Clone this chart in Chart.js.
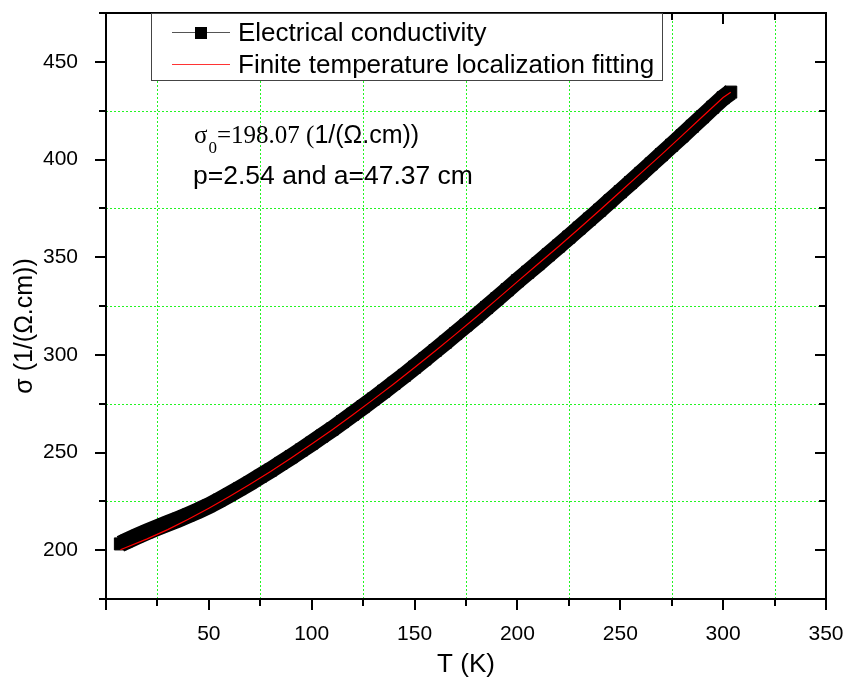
<!DOCTYPE html>
<html>
<head>
<meta charset="utf-8">
<script src="https://cdn.jsdelivr.net/npm/chart.js@4.4.1/dist/chart.umd.min.js"></script>
<style>
  body { margin: 0; background: #fff; }
  canvas { display: block; }
</style>
</head>
<body>
<canvas id="sigmaChart" width="848" height="687"></canvas>
<script>
const tempData = [7, 10, 15, 20, 25, 30, 35, 40, 45, 50, 55, 60, 65, 70, 75, 80, 85, 90, 95, 100,
  105, 110, 115, 120, 125, 130, 135, 140, 145, 150, 155, 160, 165, 170, 175, 180, 185, 190, 195, 200,
  205, 210, 215, 220, 225, 230, 235, 240, 245, 250, 255, 260, 265, 270, 275, 280, 285, 290, 295, 300, 303.7]
const sigmaData = [203.2, 204.7, 207.1, 209.4, 211.6, 213.7, 215.8, 218, 220.3, 222.8, 225.6, 228.5, 231.5, 234.6, 237.8, 241, 244.4, 247.8, 251.3, 254.8,
  258.4, 262, 265.8, 269.6, 273.5, 277.4, 281.4, 285.4, 289.5, 293.7, 297.9, 302.2, 306.5, 310.9, 315.3, 319.7, 324.2, 328.7, 333.3, 337.9,
  342.3, 346.7, 351.2, 355.7, 360.3, 364.9, 369.5, 374.1, 378.8, 383.5, 388.2, 392.9, 397.7, 402.5, 407.3, 412.1, 417, 421.9, 426.8, 431.6, 434.5]

// finite temperature localization fit
const tempFit = [7, 20, 30, 40, 50, 60, 70, 80, 90, 100, 110, 120, 130, 140, 150, 160, 170, 180, 190, 200,
  210, 220, 230, 240, 250, 260, 270, 280, 290, 300, 303.7]
const sigmaFit = [200.2, 205.8, 210.5, 215.8, 221.5, 227.5, 233.8, 240.3, 247.2, 254.3, 261.7, 269.3, 277.2, 285.2, 293.5, 302, 310.6, 319.4, 328.4, 337.5,
  346.5, 355.5, 364.7, 374, 383.5, 393, 402.5, 412.2, 422, 431.7, 434.4]

const xLabels = [50, 100, 150, 200, 250, 300, 350]
const yLabels = [200, 250, 300, 350, 400, 450]

const sans = '"Liberation Sans", Arial, sans-serif'
const serif = '"Liberation Serif", "Times New Roman", serif'

function toPoints(xs, ys) {
  return xs.map((x, i) => ({ x: x, y: ys[i] }))
}

function isMajor(v) {
  return Math.round(v) % 50 === 0
}

// green dotted grid on the minor ticks only
const gridPlugin = {
  id: 'minorGrid',
  beforeDatasetsDraw(chart) {
    const ctx = chart.ctx
    const { left, right, top, bottom } = chart.chartArea
    ctx.save()
    ctx.strokeStyle = '#22f522'
    ctx.lineWidth = 1
    ctx.setLineDash([2, 2])
    chart.scales.x.ticks.forEach(t => {
      if (isMajor(t.value)) return
      const px = Math.round(chart.scales.x.getPixelForValue(t.value)) + 0.5
      ctx.beginPath()
      ctx.moveTo(px, top)
      ctx.lineTo(px, bottom)
      ctx.stroke()
    })
    chart.scales.y.ticks.forEach(t => {
      if (isMajor(t.value)) return
      const py = Math.round(chart.scales.y.getPixelForValue(t.value)) + 0.5
      ctx.beginPath()
      ctx.moveTo(left, py)
      ctx.lineTo(right, py)
      ctx.stroke()
    })
    ctx.restore()
  }
}

// axes frame, ticks on all four sides, legend box and the fit parameters
const framePlugin = {
  id: 'frame',
  afterDraw(chart) {
    const ctx = chart.ctx
    const { left, right, top, bottom } = chart.chartArea
    const xs = chart.scales.x
    const ys = chart.scales.y
    ctx.save()
    ctx.strokeStyle = '#000'
    ctx.lineWidth = 2
    ctx.beginPath()
    ctx.rect(left, top, right - left, bottom - top)
    ctx.stroke()

    ctx.beginPath()
    xs.ticks.forEach(t => {
      const px = Math.round(xs.getPixelForValue(t.value))
      const len = isMajor(t.value) ? 11 : 7
      ctx.moveTo(px, bottom)
      ctx.lineTo(px, bottom + len)
      ctx.moveTo(px, top)
      ctx.lineTo(px, top + len)
    })
    ys.ticks.forEach(t => {
      const py = Math.round(ys.getPixelForValue(t.value))
      const len = isMajor(t.value) ? 11 : 7
      ctx.moveTo(left, py)
      ctx.lineTo(left - len, py)
      ctx.moveTo(right, py)
      ctx.lineTo(right - len, py)
    })
    ctx.stroke()

    // legend
    const ds = chart.data.datasets
    ctx.fillStyle = '#fff'
    ctx.fillRect(152, 14, 511, 66)
    ctx.strokeStyle = '#444'
    ctx.lineWidth = 1
    ctx.strokeRect(151.5, 13.5, 511, 67)

    ctx.strokeStyle = '#555'
    ctx.beginPath()
    ctx.moveTo(172, 32.5)
    ctx.lineTo(230, 32.5)
    ctx.stroke()
    ctx.fillStyle = '#000'
    ctx.fillRect(195, 27, 12, 12)

    ctx.strokeStyle = '#ff3333'
    ctx.beginPath()
    ctx.moveTo(172, 64.5)
    ctx.lineTo(230, 64.5)
    ctx.stroke()

    ctx.fillStyle = '#000'
    ctx.textBaseline = 'alphabetic'
    ctx.textAlign = 'left'
    ctx.font = '26px ' + sans
    ctx.fillText(ds[0].label, 238, 41)
    ctx.fillText(ds[1].label, 238, 73)

    // fit parameters
    let x = 194
    ctx.font = '25px ' + serif
    ctx.fillText('σ', x, 143)
    x += ctx.measureText('σ').width + 1
    ctx.font = '17px ' + serif
    ctx.fillText('0', x, 153)
    x += ctx.measureText('0').width
    ctx.font = '25px ' + serif
    ctx.fillText('=198.07 (', x, 143)
    x += ctx.measureText('=198.07 (').width
    ctx.font = '25px ' + sans
    ctx.fillText('1/(Ω.cm))', x, 143)
    ctx.font = '26.5px ' + sans
    ctx.fillText('p=2.54 and a=47.37 cm', 193, 184)

    // y axis title
    ctx.translate(25, 326)
    ctx.rotate(-Math.PI / 2)
    ctx.textAlign = 'center'
    ctx.textBaseline = 'middle'
    ctx.font = '25px ' + sans
    ctx.fillText('σ (1/(Ω.cm))', 0, 0)
    ctx.restore()
  }
}

const ctx = document.getElementById('sigmaChart').getContext('2d')

new Chart(ctx, {
  type: 'scatter',
  data: {
    datasets: [
      {
        label: 'Electrical conductivity',
        data: toPoints(tempData, sigmaData),
        order: 1,
        showLine: true,
        borderColor: '#000',
        borderWidth: 17,
        borderCapStyle: 'butt',
        backgroundColor: '#000',
        pointStyle: 'rect',
        pointRadius: 8.5,
        pointBorderWidth: 1,
        pointBorderColor: '#000',
        pointBackgroundColor: '#000',
        tension: 0,
      },
      {
        label: 'Finite temperature localization fitting',
        data: toPoints(tempFit, sigmaFit),
        order: 0,
        showLine: true,
        borderColor: '#ff0000',
        borderWidth: 1.2,
        pointRadius: 0,
        tension: 0,
      },
    ],
  },
  options: {
    responsive: false,
    animation: false,
    layout: { padding: { left: 0, right: 22, top: 13, bottom: 0 } },
    plugins: {
      legend: { display: false },
      tooltip: { enabled: false },
    },
    scales: {
      x: {
        type: 'linear',
        min: 0,
        max: 350,
        afterFit: function (scale) {
          scale.height = 88
          scale.paddingLeft = 0
          scale.paddingRight = 0
        },
        ticks: {
          stepSize: 25,
          autoSkip: false,
          maxRotation: 0,
          padding: 15,
          color: '#000',
          font: { family: sans, size: 21 },
          callback: function (value) {
            return xLabels.includes(value) ? String(value) : ''
          },
        },
        grid: { display: false },
        border: { display: false },
        title: {
          display: true,
          text: 'T (K)',
          color: '#000',
          font: { family: sans, size: 26 },
          padding: { top: 0, bottom: 7 },
        },
      },
      y: {
        type: 'linear',
        min: 175,
        max: 475,
        afterFit: function (scale) {
          scale.width = 106
          scale.paddingTop = 0
          scale.paddingBottom = 0
        },
        ticks: {
          stepSize: 25,
          autoSkip: false,
          padding: 20,
          color: '#000',
          font: { family: sans, size: 21 },
          callback: function (value) {
            return yLabels.includes(value) ? String(value) : ''
          },
        },
        grid: { display: false },
        border: { display: false },
      },
    },
  },
  plugins: [gridPlugin, framePlugin],
})
</script>
</body>
</html>
